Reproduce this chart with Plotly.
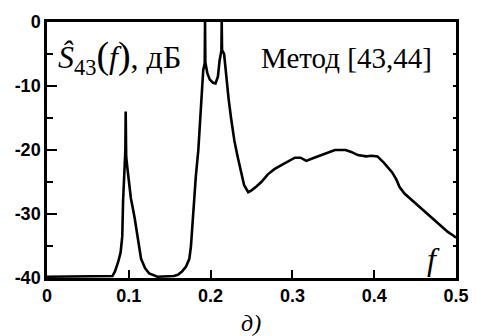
import plotly.graph_objects as go

freq = [0.0, 0.02, 0.04, 0.06, 0.075, 0.080, 0.083, 0.087, 0.090, 0.092, 0.093,
        0.094, 0.095, 0.0958, 0.0962, 0.0968, 0.098, 0.100, 0.1025, 0.107, 0.111,
        0.115, 0.120, 0.125, 0.135, 0.145, 0.155, 0.160, 0.165, 0.170, 0.174,
        0.176, 0.178, 0.180, 0.182, 0.185, 0.187, 0.189, 0.191, 0.1928, 0.1932,
        0.1936, 0.196, 0.199, 0.203, 0.206, 0.209, 0.211, 0.2132, 0.2136, 0.214,
        0.2165, 0.219, 0.222, 0.225, 0.229, 0.233, 0.237, 0.241, 0.246, 0.250,
        0.256, 0.262, 0.270, 0.278, 0.286, 0.295, 0.303, 0.310, 0.317, 0.325,
        0.335, 0.345, 0.352, 0.365, 0.372, 0.380, 0.390, 0.397, 0.404, 0.412,
        0.418, 0.422, 0.427, 0.431, 0.437, 0.444, 0.452, 0.461, 0.470, 0.477,
        0.484, 0.490, 0.497, 0.500]
level_db = [-39.8, -39.8, -39.8, -39.8, -39.8, -39.7, -39.0, -37.5, -36.0, -33.5, -28.0,
            -24.0, -22.0, -20.0, -14.0, -21.0, -22.5, -24.5, -27.5, -30.5, -34.0,
            -37.0, -38.5, -39.3, -39.8, -39.8, -39.7, -39.5, -39.0, -38.2, -37.0,
            -35.0, -31.0, -27.5, -24.0, -20.0, -16.0, -11.0, -7.5, -6.5, 0.0,
            -6.3, -8.0, -9.0, -9.5, -9.6, -8.5, -6.0, -4.5, 0.0, -4.4,
            -5.0, -8.5, -12.0, -15.0, -18.5, -21.0, -23.5, -25.5, -26.6, -26.3,
            -25.7, -25.0, -23.8, -23.0, -22.4, -21.8, -21.2, -21.2, -21.7, -21.3,
            -20.8, -20.4, -20.0, -20.0, -20.3, -20.8, -21.0, -20.9, -21.0, -22.0,
            -22.8, -23.5, -24.6, -25.8, -26.8, -27.6, -28.5, -29.6, -30.6, -31.4,
            -32.2, -32.8, -33.4, -33.7]

y_ticks = [0, -10, -20, -30, -40]
y_tick_text = ["0", "-10", "-20", "-30", "-40"]
x_ticks = [0, 0.1, 0.2, 0.3, 0.4, 0.5]
x_tick_text = ["0", "0.1", "0.2", "0.3", "0.4", "0.5"]
right_ticks = [-35, -30, -25, -20, -15, -10, -5]

fig = go.Figure()
fig.add_trace(go.Scatter(x=freq, y=level_db, mode="lines",
                         line=dict(color="black", width=2.6), showlegend=False))
# helper trace so the right-side axis (small ticks) is drawn
fig.add_trace(go.Scatter(x=[freq[0]], y=[level_db[0]], yaxis="y2", mode="lines",
                         line=dict(color="rgba(0,0,0,0)"), showlegend=False,
                         hoverinfo="skip"))

tick_font = dict(family="Liberation Sans, Arial, sans-serif", size=18,
                 color="black", weight="bold")

fig.update_layout(
    width=481, height=336,
    margin=dict(l=47, r=21, t=16, b=58),
    paper_bgcolor="white", plot_bgcolor="white",
    xaxis=dict(range=[0, 0.5], tickvals=x_ticks, ticktext=x_tick_text,
               ticks="inside", ticklen=8, tickwidth=2, tickcolor="black",
               showline=True, linewidth=2.5, linecolor="black", mirror=True,
               showgrid=False, zeroline=False, tickfont=tick_font),
    yaxis=dict(range=[-40, 0], tickvals=y_ticks, ticktext=y_tick_text,
               ticks="inside", ticklen=10, tickwidth=2, tickcolor="black",
               minor=dict(ticks="inside", ticklen=6, tickwidth=1.5,
                          tickcolor="black", tickvals=[-5, -15, -25, -35]),
               showline=True, linewidth=2.5, linecolor="black", mirror=True,
               showgrid=False, zeroline=False, tickfont=tick_font),
    yaxis2=dict(range=[-40, 0], overlaying="y", side="right",
                tickvals=right_ticks,
                ticks="inside", ticklen=3, tickwidth=1.5, tickcolor="black",
                showticklabels=False, showgrid=False, zeroline=False,
                showline=False),
)

serif = "Liberation Serif, Times New Roman, serif"
fig.add_annotation(xref="paper", yref="paper", x=0.022, y=0.865,
                   xanchor="left", yanchor="middle", showarrow=False,
                   text="<i>Ŝ</i><sub>43</sub><span style='font-size:38px'>(</span>"
                        "<i>f</i><span style='font-size:38px'>)</span>, дБ",
                   font=dict(family=serif, size=32, color="black"))
fig.add_annotation(xref="paper", yref="paper", x=0.947, y=0.86,
                   xanchor="right", yanchor="middle", showarrow=False,
                   text="Метод [43,44]",
                   font=dict(family=serif, size=29, color="black"))
fig.add_annotation(xref="paper", yref="paper", x=0.944, y=0.075,
                   xanchor="center", yanchor="middle", showarrow=False,
                   text="<i>f</i>",
                   font=dict(family=serif, size=32, color="black"))
fig.add_annotation(xref="paper", yref="paper", x=0.499, y=-0.175,
                   xanchor="center", yanchor="middle", showarrow=False,
                   text="<i>д)</i>",
                   font=dict(family=serif, size=24, color="black"))

fig.write_html("out.html")
